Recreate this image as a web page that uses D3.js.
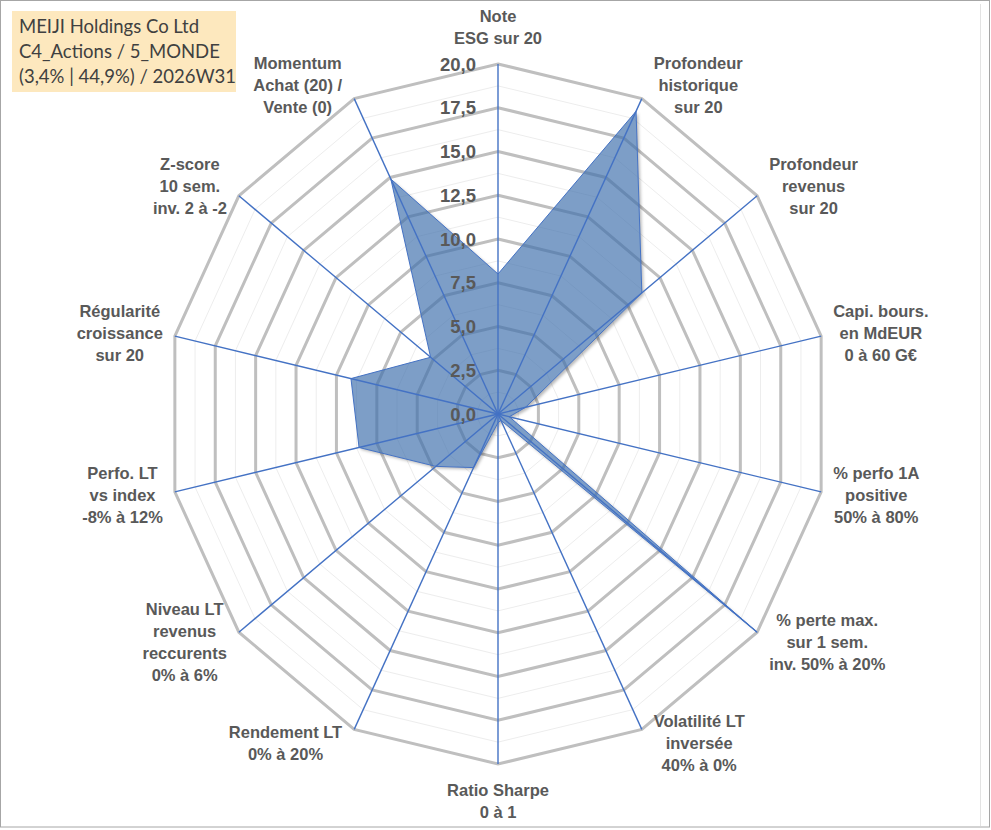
<!DOCTYPE html>
<html>
<head>
<meta charset="utf-8">
<script src="https://cdn.jsdelivr.net/npm/d3@7/dist/d3.min.js"></script>
<style>
  body { margin: 0; background: #fff; }
  svg { display: block; }
</style>
</head>
<body>
<svg id="chart" width="991" height="830"></svg>
<script>
// ---- data ----
var titleLines = ['MEIJI Holdings Co Ltd', 'C4_Actions / 5_MONDE', '(3,4% | 44,9%) / 2026W31'];

var axisLabels = [
  ['Note', 'ESG sur 20'],
  ['Profondeur', 'historique', 'sur 20'],
  ['Profondeur', 'revenus', 'sur 20'],
  ['Capi. bours.', 'en MdEUR', '0 à 60 G€'],
  ['% perfo 1A', 'positive', '50% à 80%'],
  ['% perte max.', 'sur 1 sem.', 'inv. 50% à 20%'],
  ['Volatilité LT', 'inversée', '40% à 0%'],
  ['Ratio Sharpe', '0 à 1'],
  ['Rendement LT', '0% à 20%'],
  ['Niveau LT', 'revenus', 'reccurents', '0% à 6%'],
  ['Perfo. LT', 'vs index', '-8% à 12%'],
  ['Régularité', 'croissance', 'sur 20'],
  ['Z-score', '10 sem.', 'inv. 2 à -2'],
  ['Momentum', 'Achat (20) /', 'Vente (0)']
];

var scores = [8.0, 19.2, 11.1, 1.7, 0.7, 20, 0.4, 0.5, 3.4, 4.8, 8.6, 9.1, 5.2, 14.9];

var majorTicks = [0, 2.5, 5, 7.5, 10, 12.5, 15, 17.5, 20];
var minorTicks = [1.25, 3.75, 6.25, 8.75, 11.25, 13.75, 16.25, 18.75];

// ---- layout ----
var cx = 498, cy = 414;
var squeeze = 0.947;   // the plot is a little narrower than tall

var svg = d3.select('#chart');
var n = axisLabels.length;

var r = d3.scaleLinear().domain([0, 20]).range([0, 350]);
var angle = d3.scaleLinear().domain([0, n]).range([0, 2 * Math.PI]);

function pt(i, v) {
  var a = angle(i);
  return [cx + squeeze * r(v) * Math.sin(a), cy - r(v) * Math.cos(a)];
}

var ring = d3.line().curve(d3.curveLinearClosed);
var idx = d3.range(n);
var seriesPath = ring(scores.map(function (v, i) { return pt(i, v); }));

// frame
svg.append('rect')
  .attr('x', 0.5).attr('y', 0.5).attr('width', 989).attr('height', 826.5)
  .attr('fill', '#fff').attr('stroke', '#a6a6a6');
svg.append('line')
  .attr('x1', 980.5).attr('x2', 980.5).attr('y1', 4).attr('y2', 826)
  .attr('stroke', '#e3e3e3');

// shadow only outside the shape, so the see-through fill stays light
var defs = svg.append('defs');
defs.append('filter').attr('id', 'blur')
  .attr('x', '-10%').attr('y', '-10%').attr('width', '120%').attr('height', '120%')
  .append('feGaussianBlur').attr('stdDeviation', 1.6);
var mask = defs.append('mask').attr('id', 'outside')
  .attr('maskUnits', 'userSpaceOnUse')
  .attr('x', 0).attr('y', 0).attr('width', 991).attr('height', 830);
mask.append('rect').attr('width', 991).attr('height', 830).attr('fill', '#fff');
mask.append('path').attr('d', seriesPath).attr('fill', '#000');

// grid rings
svg.append('g').selectAll('path')
  .data(minorTicks)
  .join('path')
  .attr('d', function (v) { return ring(idx.map(function (i) { return pt(i, v); })); })
  .attr('fill', 'none')
  .attr('stroke', '#ededed')
  .attr('stroke-width', 1);

svg.append('g').selectAll('path')
  .data(majorTicks.filter(function (v) { return v > 0; }))
  .join('path')
  .attr('d', function (v) { return ring(idx.map(function (i) { return pt(i, v); })); })
  .attr('fill', 'none')
  .attr('stroke', '#bfbfbf')
  .attr('stroke-width', 3)
  .attr('stroke-linejoin', 'miter');

// the series
svg.append('g').attr('mask', 'url(#outside)')
  .append('path')
  .attr('d', seriesPath)
  .attr('transform', 'translate(2,2)')
  .attr('fill', '#000')
  .attr('fill-opacity', 0.28)
  .attr('filter', 'url(#blur)');

svg.append('path')
  .attr('d', seriesPath)
  .attr('fill', '#3f70ad')
  .attr('fill-opacity', 0.68)
  .attr('stroke', '#4472c4')
  .attr('stroke-width', 1)
  .attr('stroke-linejoin', 'miter');

// spokes
svg.append('g').selectAll('line')
  .data(idx)
  .join('line')
  .attr('x1', cx).attr('y1', cy)
  .attr('x2', function (i) { return pt(i, 20)[0]; })
  .attr('y2', function (i) { return pt(i, 20)[1]; })
  .attr('stroke', '#4472c4')
  .attr('stroke-width', 1.4);

// radial tick labels
var fmt = d3.format('.1f');
svg.append('g').selectAll('text')
  .data(majorTicks)
  .join('text')
  .attr('x', cx - 22)
  .attr('y', function (v) { return cy - r(v); })
  .attr('dy', '0.36em')
  .attr('text-anchor', 'end')
  .attr('font-family', 'Liberation Sans, Arial, sans-serif')
  .attr('font-weight', 'bold')
  .attr('font-size', 18.5)
  .attr('fill', '#595959')
  .text(function (v) { return fmt(v).replace('.', ','); });

// category labels
var lineH = 22;
var labels = svg.append('g')
  .attr('font-family', 'Liberation Sans, Arial, sans-serif')
  .attr('font-weight', 'bold')
  .attr('font-size', 16.5)
  .attr('fill', '#595959')
  .attr('text-anchor', 'middle');

axisLabels.forEach(function (lines, i) {
  var a = angle(i);
  var s = Math.sin(a), c = Math.cos(a);
  var v = pt(i, 20);
  var t = labels.append('text');
  lines.forEach(function (l) { t.append('tspan').text(l); });
  var w = d3.max(t.selectAll('tspan').nodes(), function (nd) { return nd.getComputedTextLength(); });
  var h = lines.length * lineH;
  var mx, my;
  if (Math.abs(s) < 0.01) {
    mx = cx;
    my = c > 0 ? v[1] - 15 - h / 2 : v[1] + 15 + h / 2;
  } else {
    mx = s > 0 ? v[0] + 12 + w / 2 : v[0] - 12 - w / 2;
    my = v[1] - 15 * c;
  }
  t.selectAll('tspan')
    .attr('x', mx)
    .attr('y', function (d, j) { return my + (j - (lines.length - 1) / 2) * lineH; })
    .attr('dy', '0.36em');
});

// title box
svg.append('rect')
  .attr('x', 12).attr('y', 11).attr('width', 224).attr('height', 81)
  .attr('fill', '#fde8be');
svg.append('g')
  .attr('font-family', 'Lato, Calibri, sans-serif')
  .attr('font-size', 18.5)
  .attr('fill', '#404040')
  .selectAll('text')
  .data(titleLines)
  .join('text')
  .attr('x', 19)
  .attr('y', function (d, j) { return 33 + j * 25; })
  .text(function (d) { return d; });
</script>
</body>
</html>
